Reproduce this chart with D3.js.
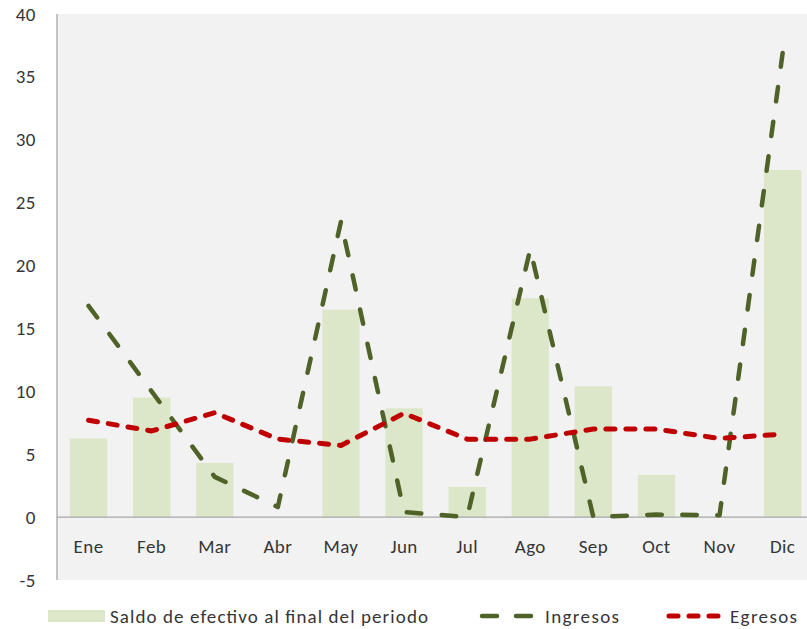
<!DOCTYPE html>
<html><head><meta charset="utf-8">
<script src="https://cdn.jsdelivr.net/npm/d3@7"></script>
<style>body{margin:0;background:#fff}svg{display:block}text{font-family:Carlito,Lato,"Open Sans",sans-serif;fill:#363636}</style>
</head><body>
<svg id="c" width="807" height="629"></svg>
<script>
const months = ["Ene","Feb","Mar","Abr","May","Jun","Jul","Ago","Sep","Oct","Nov","Dic"];
const saldo = [6.25, 9.5, 4.3, 0, 16.5, 8.65, 2.4, 17.4, 10.4, 3.35, 0, 27.6];
const ingresos = [16.8, 10.0, 3.2, 0.8, 23.5, 0.4, 0.0, 21.3, 0.0, 0.2, 0.15, 36.9];
const egresos = [7.7, 6.85, 8.3, 6.2, 5.7, 8.25, 6.2, 6.2, 7.0, 7.0, 6.25, 6.6];
const yTicks = [-5, 0, 5, 10, 15, 20, 25, 30, 35, 40];
const legendLabels = ["Saldo de efectivo al final del periodo", "Ingresos", "Egresos"];

const svg = d3.select("#c");
const FS = 19;
const pL = 57, pR = 807, pT = 14, pB = 580;
const x = d3.scaleBand().domain(months).range([pL, pL + 12 * 63.1]).paddingInner(0.41).paddingOuter(0.205);
const xc = d => x(d) + x.bandwidth() / 2;
const y = d3.scaleLinear().domain([-5, 40]).range([pB, pT]);

svg.append("rect").attr("x", pL).attr("y", pT).attr("width", pR - pL).attr("height", pB - pT).attr("fill", "#f2f2f2");

// bars
svg.append("g").selectAll("rect").data(saldo).join("rect")
  .attr("x", (d, i) => x(months[i])).attr("width", x.bandwidth())
  .attr("y", d => y(Math.max(d, 0))).attr("height", d => Math.abs(y(d) - y(0)))
  .attr("fill", "#dce6c8");

// zero line
svg.append("line").attr("x1", pL).attr("x2", pR).attr("y1", y(0)).attr("y2", y(0)).attr("stroke", "#a6a6a6").attr("stroke-width", 1.3);
// y axis line
svg.append("line").attr("x1", pL).attr("x2", pL).attr("y1", pT).attr("y2", pB).attr("stroke", "#a6a6a6").attr("stroke-width", 1.3);

// y axis labels
const yAxis = d3.axisLeft(y).tickValues(yTicks).tickSize(0).tickPadding(21).tickFormat(d => String(d));
const gy = svg.append("g").attr("transform", `translate(${pL},0)`).call(yAxis);
gy.select(".domain").remove();
gy.selectAll("text").attr("font-size", FS).attr("fill", "#363636").style("font-family", "Carlito,Lato,sans-serif").style("letter-spacing", "0.5px");

// x labels
const xAxis = d3.axisBottom(x).tickSize(0).tickPadding(0);
const gx = svg.append("g").attr("transform", `translate(0,${y(0)})`).call(xAxis);
gx.select(".domain").remove();
gx.selectAll("text").attr("font-size", FS).attr("fill", "#363636").attr("dy", null).attr("y", 36).style("font-family", "Carlito,Lato,sans-serif").style("letter-spacing", "0.4px");

const line = d3.line().x((d, i) => xc(months[i])).y(d => y(d));
svg.append("path").datum(ingresos).attr("d", line).attr("fill", "none")
  .attr("stroke", "#4f6228").attr("stroke-width", 4.5).attr("stroke-linecap", "round").attr("stroke-linejoin", "round")
  .attr("stroke-dasharray", "14.5 20.5");
svg.append("path").datum(egresos).attr("d", line).attr("fill", "none")
  .attr("stroke", "#c00000").attr("stroke-width", 5).attr("stroke-linecap", "round").attr("stroke-linejoin", "round")
  .attr("stroke-dasharray", "9 11");

// legend
const lyB = 623;
const lg = svg.append("g");
lg.append("rect").attr("x", 48).attr("y", 610).attr("width", 57).attr("height", 12).attr("fill", "#dce6c8");
lg.append("text").attr("x", 110).attr("y", lyB).attr("font-size", FS).attr("textLength", 318).attr("lengthAdjust", "spacing").text(legendLabels[0]);
lg.append("line").attr("x1", 482).attr("x2", 531).attr("y1", 616).attr("y2", 616)
  .attr("stroke", "#4f6228").attr("stroke-width", 4.5).attr("stroke-linecap", "round").attr("stroke-dasharray", "15 19");
lg.append("text").attr("x", 545).attr("y", lyB).attr("font-size", FS).attr("textLength", 74).attr("lengthAdjust", "spacing").text(legendLabels[1]);
lg.append("line").attr("x1", 669).attr("x2", 718).attr("y1", 616).attr("y2", 616)
  .attr("stroke", "#c00000").attr("stroke-width", 5).attr("stroke-linecap", "round").attr("stroke-dasharray", "9 11");
lg.append("text").attr("x", 730).attr("y", lyB).attr("font-size", FS).attr("textLength", 67).attr("lengthAdjust", "spacing").text(legendLabels[2]);
</script>
</body></html>
